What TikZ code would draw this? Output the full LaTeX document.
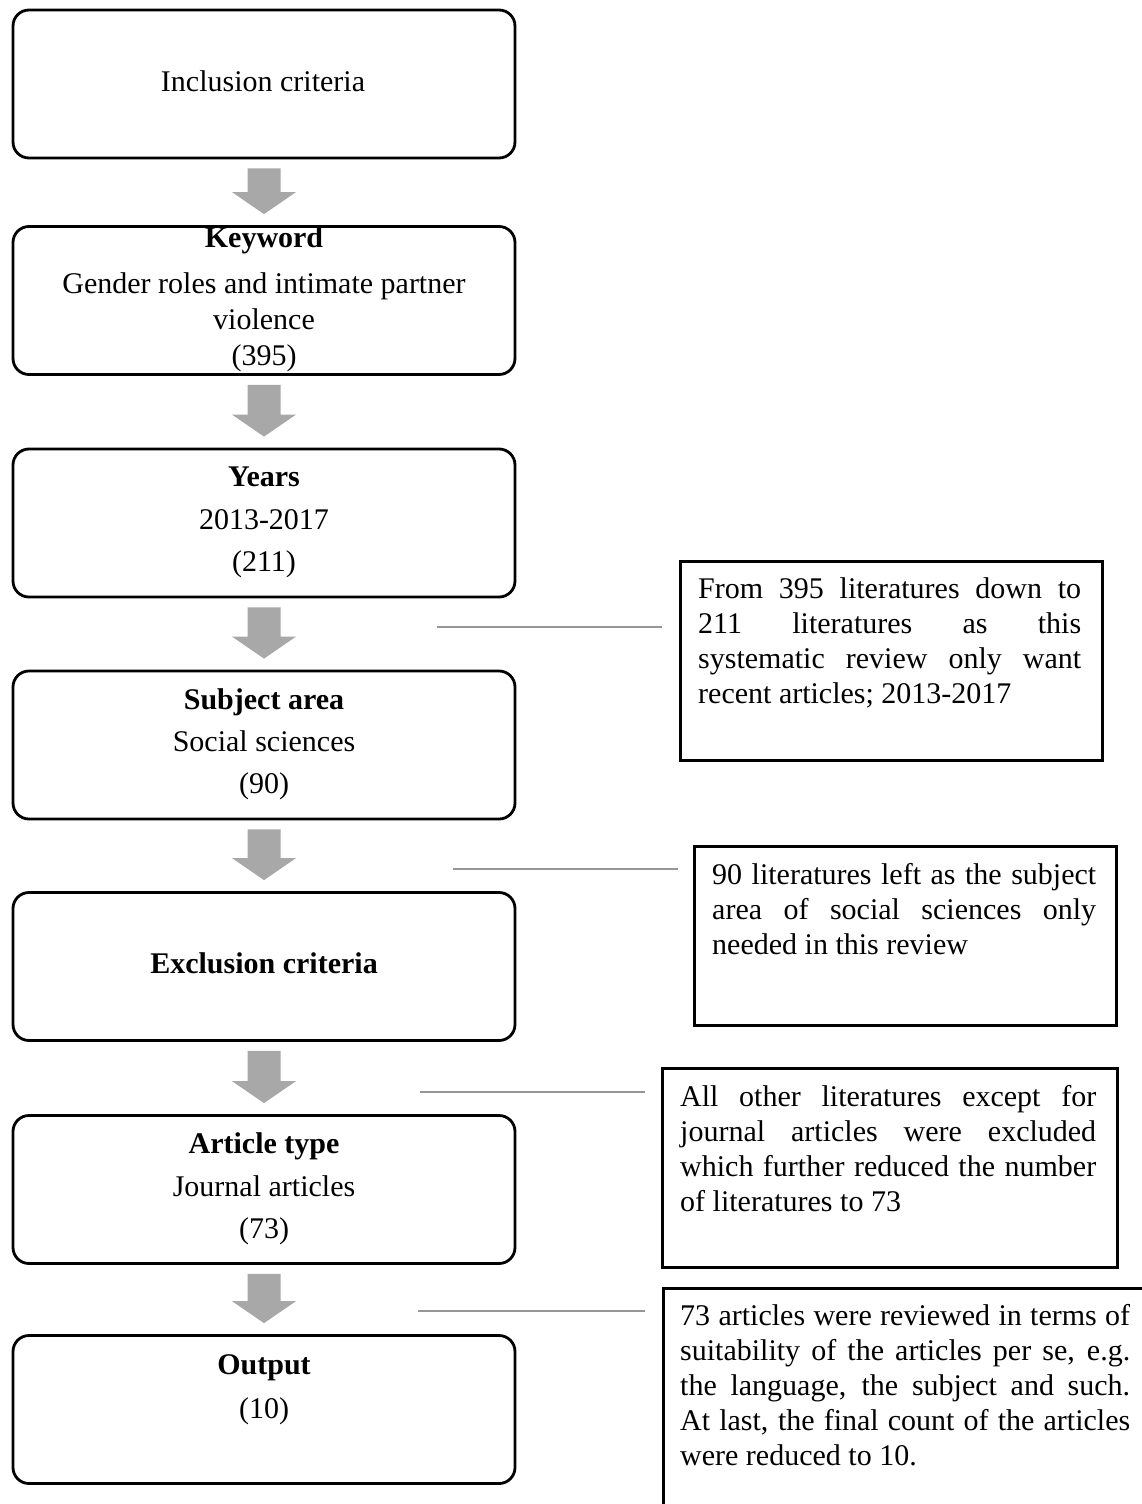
\documentclass[tikz,border=0pt]{standalone}
\usepackage{fontspec}
\setmainfont{Liberation Serif}
\usetikzlibrary{calc}
\definecolor{arrgray}{RGB}{168,168,168}
\definecolor{lngray}{RGB}{150,150,150}
\newcommand{\blockarrow}[2]{%
  \fill[arr] ($(#1.south)+(-16.5,9)$) -- ($(#1.south)+(16.5,9)$) --
    ($(#2.north)+(16.5,-33)$) -- ($(#2.north)+(32,-33)$) --
    ($(#2.north)+(0,-11)$) -- ($(#2.north)+(-32,-33)$) --
    ($(#2.north)+(-16.5,-33)$) -- cycle;}
\newcommand{\jpar}{\hyphenpenalty=10000 \exhyphenpenalty=10000 \tolerance=10000 \emergencystretch=20pt \spaceskip=0.25em plus 0.6em minus 0.12em\relax}
\begin{document}
\begin{tikzpicture}[x=1pt,y=-1pt,
  flowbox/.style={draw=black, line width=2.8pt, rounded corners=16pt, fill=white,
    minimum width=502pt, minimum height=148pt, inner sep=0pt},
  sidebox/.style={draw=black, line width=2.8pt, fill=white, inner sep=0pt, anchor=north west},
  lbl/.style={anchor=base, inner sep=0pt, font=\fontsize{30}{35}\selectfont},
  hd/.style={anchor=base, inner sep=0pt, font=\fontsize{30}{35}\selectfont\bfseries},
  para/.style={anchor=north west, inner sep=0pt, align=justify,
    font=\fontsize{30}{35}\selectfont},
  link/.style={draw=lngray, line width=2.6pt},
  arr/.style={fill=arrgray},
]
\useasboundingbox (0,0) rectangle (1141,1504);
\fill[white] (0,0) rectangle (1141,1504);

% left flow boxes
\node[flowbox] (b1) at (264,84) {};
\node[flowbox] (b2) at (264,300.5) {};
\node[flowbox] (b3) at (264,523) {};
\node[flowbox] (b4) at (264,745) {};
\node[flowbox] (b5) at (264,966.5) {};
\node[flowbox] (b6) at (264,1189.5) {};
\node[flowbox] (b7) at (264,1409.5) {};

% texts in left boxes
\node[lbl] (t1) at (263,92) {Inclusion criteria};
\node[hd]  (t2a) at (264,247) {Keyword};
\node[lbl] (t2b) at (264,293) {Gender roles and intimate partner};
\node[lbl] (t2c) at (264,329) {violence};
\node[lbl] (t2d) at (264,365) {(395)};
\node[hd]  (t3a) at (264,486) {Years};
\node[lbl] (t3b) at (264,529) {2013-2017};
\node[lbl] (t3c) at (264,571) {(211)};
\node[hd]  (t4a) at (264,709) {Subject area};
\node[lbl] (t4b) at (264,751) {Social sciences};
\node[lbl] (t4c) at (264,793) {(90)};
\node[hd]  (t5a) at (264,973) {Exclusion criteria};
\node[hd]  (t6a) at (264,1153) {Article type};
\node[lbl] (t6b) at (264,1196) {Journal articles};
\node[lbl] (t6c) at (264,1238) {(73)};
\node[hd]  (t7a) at (264,1374) {Output};
\node[lbl] (t7b) at (264,1418) {(10)};

% block arrows
\blockarrow{b1}{b2}
\blockarrow{b2}{b3}
\blockarrow{b3}{b4}
\blockarrow{b4}{b5}
\blockarrow{b5}{b6}
\blockarrow{b6}{b7}

% side boxes
\node[sidebox, minimum width=422pt, minimum height=199pt] (s1) at (679,560) {};
\node[sidebox, minimum width=422pt, minimum height=179pt] (s2) at (693,845) {};
\node[sidebox, minimum width=455pt, minimum height=199pt] (s3) at (661,1067) {};
\node[sidebox, minimum width=520pt, minimum height=260pt] (s4) at (662,1287) {};

\node[para, text width=383pt] (p1) at (698,573.5)
  {\jpar\strut From 395 literatures down to\linebreak 211 literatures as this\linebreak systematic review only want\linebreak recent articles; 2013-2017};
\node[para, text width=384pt] (p2) at (712,859.5)
  {\jpar\strut 90 literatures left as the subject\linebreak area of social sciences only\linebreak needed in this review};
\node[para, text width=416pt] (p3) at (680,1081.5)
  {\jpar\strut All other literatures except for\linebreak journal articles were excluded\linebreak which further reduced the number\linebreak of literatures to 73};
\node[para, text width=450pt] (p4) at (680,1300.5)
  {\jpar\strut 73 articles were reviewed in terms of\linebreak suitability of the articles per se, e.g.\linebreak the language, the subject and such.\linebreak At last, the final count of the articles\linebreak were reduced to 10.};

% connector lines
\coordinate (l1a) at (437,627);  \coordinate (l1b) at (662,627);
\coordinate (l2a) at (453,869);  \coordinate (l2b) at (678,869);
\coordinate (l3a) at (420,1092); \coordinate (l3b) at (645,1092);
\coordinate (l4a) at (418,1311); \coordinate (l4b) at (645,1311);
\draw[link] (l1a) -- (l1b);
\draw[link] (l2a) -- (l2b);
\draw[link] (l3a) -- (l3b);
\draw[link] (l4a) -- (l4b);
\end{tikzpicture}
\end{document}
